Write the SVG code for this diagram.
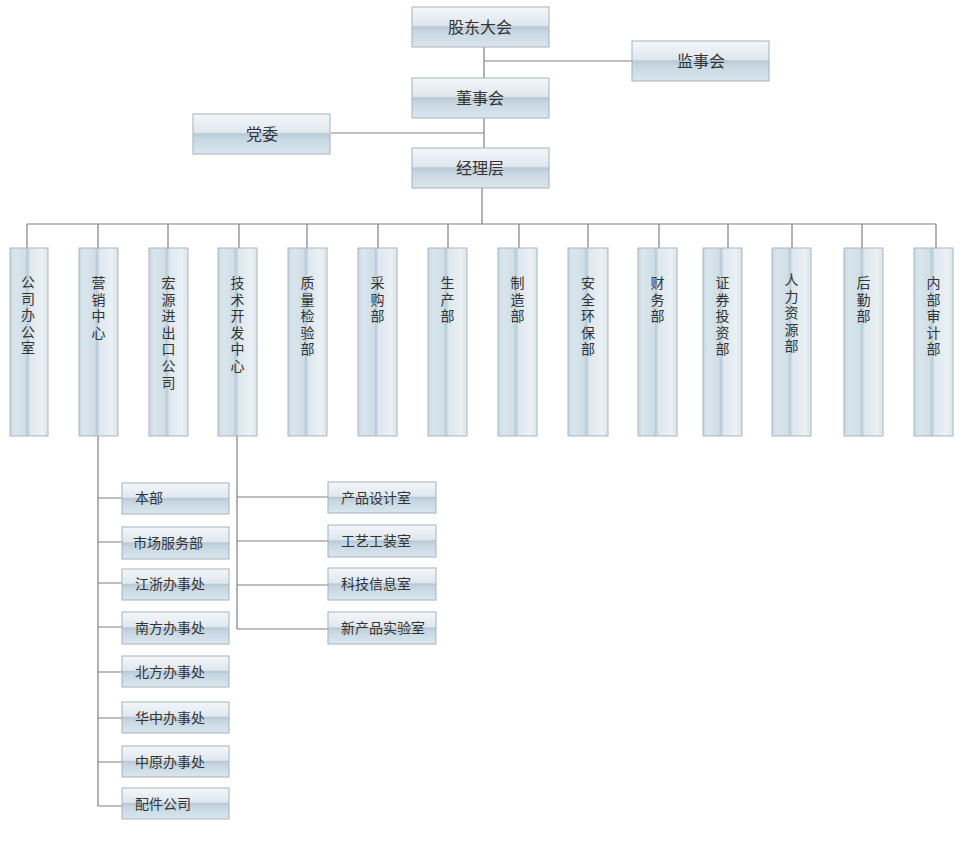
<svg xmlns="http://www.w3.org/2000/svg" width="966" height="850" viewBox="0 0 966 850">
<style>
.h{fill:url(#gh);stroke:#a8b2ba;stroke-width:1}
.v{fill:url(#gv);stroke:#adb6bd;stroke-width:1}
.t{font-family:"Liberation Sans","Noto Sans CJK SC",sans-serif;fill:#333;text-anchor:middle}
.tl{font-family:"Liberation Sans","Noto Sans CJK SC",sans-serif;fill:#333;font-size:14px}
.big{font-size:16px}
.vt{font-size:14px}
.c{stroke:#808080;stroke-width:1.2;fill:none}
</style>
<defs>
<linearGradient id="gh" x1="0" y1="0" x2="0" y2="1">
<stop offset="0" stop-color="#f4f7fa"/>
<stop offset="0.46" stop-color="#dfe7ee"/>
<stop offset="0.5" stop-color="#b8c8d5"/>
<stop offset="0.6" stop-color="#c6d6e1"/>
<stop offset="1" stop-color="#dae6ee"/>
</linearGradient>
<linearGradient id="gv" x1="0" y1="0" x2="1" y2="0">
<stop offset="0" stop-color="#c6d9e3"/>
<stop offset="0.12" stop-color="#d9e6ed"/>
<stop offset="0.4" stop-color="#cfdee7"/>
<stop offset="0.46" stop-color="#b6cad6"/>
<stop offset="0.53" stop-color="#dee8ee"/>
<stop offset="0.85" stop-color="#ebf1f5"/>
<stop offset="1" stop-color="#d9e4eb"/>
</linearGradient>
</defs>
<rect width="966" height="850" fill="#fff"/>
<g id="connectors">
<path class="c" d="M484 47V148M484 61H632M331 133H484M482 188V224M27 224H936"/>
<path class="c" d="M27 224V248M98 224V248M168 224V248M239 224V248M307 224V248M378 224V248M448 224V248M519 224V248M588 224V248M659 224V248M728 224V248M792 224V248M862 224V248M936 224V248"/>
<path class="c" d="M98 436V806M98 498H122M98 542H122M98 583H122M98 627H122M98 672H122M98 718H122M98 762H122M98 806H122"/>
<path class="c" d="M237 436V629M237 497H328M237 541H328M237 585H328M237 629H328"/>
</g>
<g id="n-gudong"><rect class="h" x="412" y="7" width="137" height="40"/><text class="t big" x="480" y="33">股东大会</text></g>
<g id="n-jianshi"><rect class="h" x="632" y="41" width="137" height="40"/><text class="t big" x="701" y="67">监事会</text></g>
<g id="n-dongshi"><rect class="h" x="412" y="78" width="137" height="40"/><text class="t big" x="480" y="104">董事会</text></g>
<g id="n-dangwei"><rect class="h" x="193" y="114" width="137" height="40"/><text class="t big" x="262" y="140">党委</text></g>
<g id="n-jingli"><rect class="h" x="412" y="148" width="137" height="40"/><text class="t big" x="480" y="174">经理层</text></g>

<g id="d1"><rect class="v" x="10" y="248" width="38" height="188"/><text class="t vt" x="28" y="287"><tspan x="28">公</tspan><tspan x="28" dy="16.6">司</tspan><tspan x="28" dy="16.6">办</tspan><tspan x="28" dy="16.6">公</tspan><tspan x="28" dy="16.6">室</tspan></text></g>
<g id="d2"><rect class="v" x="79" y="248" width="39" height="188"/><text class="t vt" x="98.5" y="288"><tspan x="98.5">营</tspan><tspan x="98.5" dy="16.6">销</tspan><tspan x="98.5" dy="16.6">中</tspan><tspan x="98.5" dy="16.6">心</tspan></text></g>
<g id="d3"><rect class="v" x="149" y="248" width="39" height="188"/><text class="t vt" x="168.5" y="288"><tspan x="168.5">宏</tspan><tspan x="168.5" dy="16.6">源</tspan><tspan x="168.5" dy="16.6">进</tspan><tspan x="168.5" dy="16.6">出</tspan><tspan x="168.5" dy="16.6">口</tspan><tspan x="168.5" dy="16.6">公</tspan><tspan x="168.5" dy="16.6">司</tspan></text></g>
<g id="d4"><rect class="v" x="218" y="248" width="39" height="188"/><text class="t vt" x="237.5" y="288"><tspan x="237.5">技</tspan><tspan x="237.5" dy="16.6">术</tspan><tspan x="237.5" dy="16.6">开</tspan><tspan x="237.5" dy="16.6">发</tspan><tspan x="237.5" dy="16.6">中</tspan><tspan x="237.5" dy="16.6">心</tspan></text></g>
<g id="d5"><rect class="v" x="288" y="248" width="39" height="188"/><text class="t vt" x="307.5" y="288"><tspan x="307.5">质</tspan><tspan x="307.5" dy="16.6">量</tspan><tspan x="307.5" dy="16.6">检</tspan><tspan x="307.5" dy="16.6">验</tspan><tspan x="307.5" dy="16.6">部</tspan></text></g>
<g id="d6"><rect class="v" x="358" y="248" width="39" height="188"/><text class="t vt" x="377.5" y="288"><tspan x="377.5">采</tspan><tspan x="377.5" dy="16.6">购</tspan><tspan x="377.5" dy="16.6">部</tspan></text></g>
<g id="d7"><rect class="v" x="428" y="248" width="39" height="188"/><text class="t vt" x="447.5" y="288"><tspan x="447.5">生</tspan><tspan x="447.5" dy="16.6">产</tspan><tspan x="447.5" dy="16.6">部</tspan></text></g>
<g id="d8"><rect class="v" x="498" y="248" width="39" height="188"/><text class="t vt" x="517.5" y="288"><tspan x="517.5">制</tspan><tspan x="517.5" dy="16.6">造</tspan><tspan x="517.5" dy="16.6">部</tspan></text></g>
<g id="d9"><rect class="v" x="568" y="248" width="40" height="188"/><text class="t vt" x="588" y="288"><tspan x="588">安</tspan><tspan x="588" dy="16.6">全</tspan><tspan x="588" dy="16.6">环</tspan><tspan x="588" dy="16.6">保</tspan><tspan x="588" dy="16.6">部</tspan></text></g>
<g id="d10"><rect class="v" x="638" y="248" width="39" height="188"/><text class="t vt" x="657.5" y="288"><tspan x="657.5">财</tspan><tspan x="657.5" dy="16.6">务</tspan><tspan x="657.5" dy="16.6">部</tspan></text></g>
<g id="d11"><rect class="v" x="703" y="248" width="39" height="188"/><text class="t vt" x="722.5" y="288"><tspan x="722.5">证</tspan><tspan x="722.5" dy="16.6">券</tspan><tspan x="722.5" dy="16.6">投</tspan><tspan x="722.5" dy="16.6">资</tspan><tspan x="722.5" dy="16.6">部</tspan></text></g>
<g id="d12"><rect class="v" x="772" y="248" width="39" height="188"/><text class="t vt" x="791.5" y="285"><tspan x="791.5">人</tspan><tspan x="791.5" dy="16.6">力</tspan><tspan x="791.5" dy="16.6">资</tspan><tspan x="791.5" dy="16.6">源</tspan><tspan x="791.5" dy="16.6">部</tspan></text></g>
<g id="d13"><rect class="v" x="844" y="248" width="39" height="188"/><text class="t vt" x="863.5" y="288"><tspan x="863.5">后</tspan><tspan x="863.5" dy="16.6">勤</tspan><tspan x="863.5" dy="16.6">部</tspan></text></g>
<g id="d14"><rect class="v" x="914" y="248" width="39" height="188"/><text class="t vt" x="933.5" y="288"><tspan x="933.5">内</tspan><tspan x="933.5" dy="16.6">部</tspan><tspan x="933.5" dy="16.6">审</tspan><tspan x="933.5" dy="16.6">计</tspan><tspan x="933.5" dy="16.6">部</tspan></text></g>

<g id="s1"><rect class="h" x="122" y="483" width="107" height="31"/><text class="tl" x="135" y="503">本部</text></g>
<g id="s2"><rect class="h" x="122" y="527" width="107" height="32"/><text class="tl" x="133" y="548">市场服务部</text></g>
<g id="s3"><rect class="h" x="122" y="569" width="107" height="31"/><text class="tl" x="135" y="589">江浙办事处</text></g>
<g id="s4"><rect class="h" x="122" y="612" width="107" height="32"/><text class="tl" x="135" y="633">南方办事处</text></g>
<g id="s5"><rect class="h" x="122" y="656" width="107" height="31"/><text class="tl" x="135" y="677">北方办事处</text></g>
<g id="s6"><rect class="h" x="122" y="702" width="107" height="31"/><text class="tl" x="135" y="723">华中办事处</text></g>
<g id="s7"><rect class="h" x="122" y="746" width="107" height="31"/><text class="tl" x="135" y="767">中原办事处</text></g>
<g id="s8"><rect class="h" x="122" y="788" width="107" height="31"/><text class="tl" x="135" y="809">配件公司</text></g>

<g id="r1"><rect class="h" x="328" y="482" width="108" height="31"/><text class="tl" x="341" y="503">产品设计室</text></g>
<g id="r2"><rect class="h" x="328" y="525" width="108" height="32"/><text class="tl" x="341" y="546">工艺工装室</text></g>
<g id="r3"><rect class="h" x="328" y="568" width="108" height="32"/><text class="tl" x="341" y="589">科技信息室</text></g>
<g id="r4"><rect class="h" x="328" y="612" width="108" height="32"/><text class="tl" x="341" y="633">新产品实验室</text></g>
</svg>
